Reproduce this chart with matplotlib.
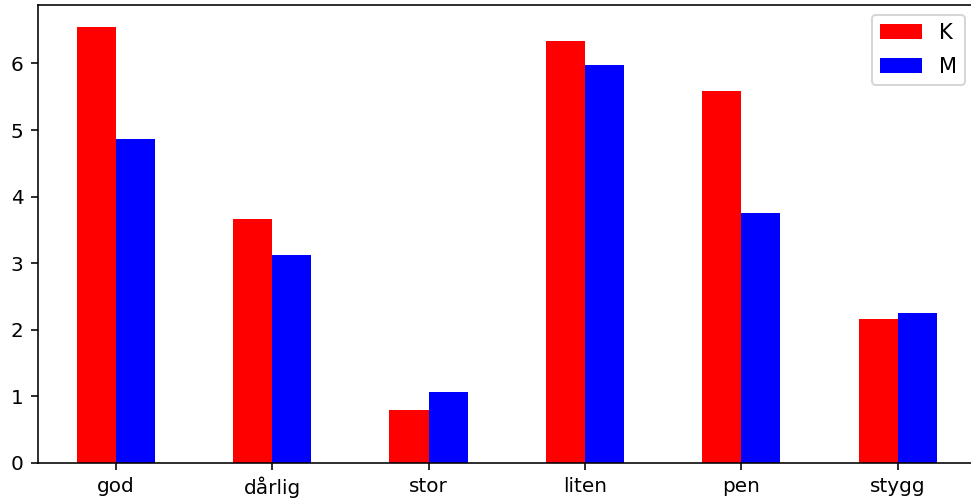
"""Diagramme en barres groupées K / M par adjectif.

Enregistre la figure dans ``out.png``.
"""

from __future__ import annotations

import matplotlib

matplotlib.use("Agg")
import matplotlib.pyplot as plt
import numpy as np

CATEGORIES = ["god", "dårlig", "stor", "liten", "pen", "stygg"]
K_VALUES = [6.55, 3.67, 0.79, 6.33, 5.59, 2.16]
M_VALUES = [4.86, 3.13, 1.06, 5.97, 3.75, 2.245]
SERIES_NAMES = ["K", "M"]
SERIES_COLORS = ["red", "blue"]

DPI = 144
FIG_W, FIG_H = 971, 503


def plot_bars(output_path: str = "out.png") -> None:
    """Trace les barres groupées et enregistre la figure."""
    fig = plt.figure(figsize=(FIG_W / DPI, FIG_H / DPI), dpi=DPI)
    # l'axe dépasse légèrement à droite, comme dans l'original (recadré)
    ax = fig.add_axes(
        [37.5 / FIG_W, 1 - 463 / FIG_H, 938.5 / FIG_W, 458 / FIG_H]
    )

    x = np.arange(len(CATEGORIES))
    width = 0.25
    for i, (values, name, color) in enumerate(
        zip([K_VALUES, M_VALUES], SERIES_NAMES, SERIES_COLORS)
    ):
        ax.bar(x + (i - 0.5) * width, values, width, color=color, label=name)

    ax.set_xticks(x)
    ax.set_xticklabels(CATEGORIES)
    ax.set_xlim(-0.5, len(CATEGORIES) - 0.5)
    ax.set_ylim(0, max(K_VALUES + M_VALUES) * 1.05)
    ax.spines["right"].set_visible(False)
    ax.legend(
        loc="upper right",
        bbox_to_anchor=(976 / 976, 1.002),
        fontsize=10.5,
        labelspacing=0.65,
    )

    fig.savefig(output_path, dpi=DPI)
    plt.close(fig)


def main() -> None:
    """Point d'entrée du script."""
    plot_bars()


if __name__ == "__main__":
    main()
